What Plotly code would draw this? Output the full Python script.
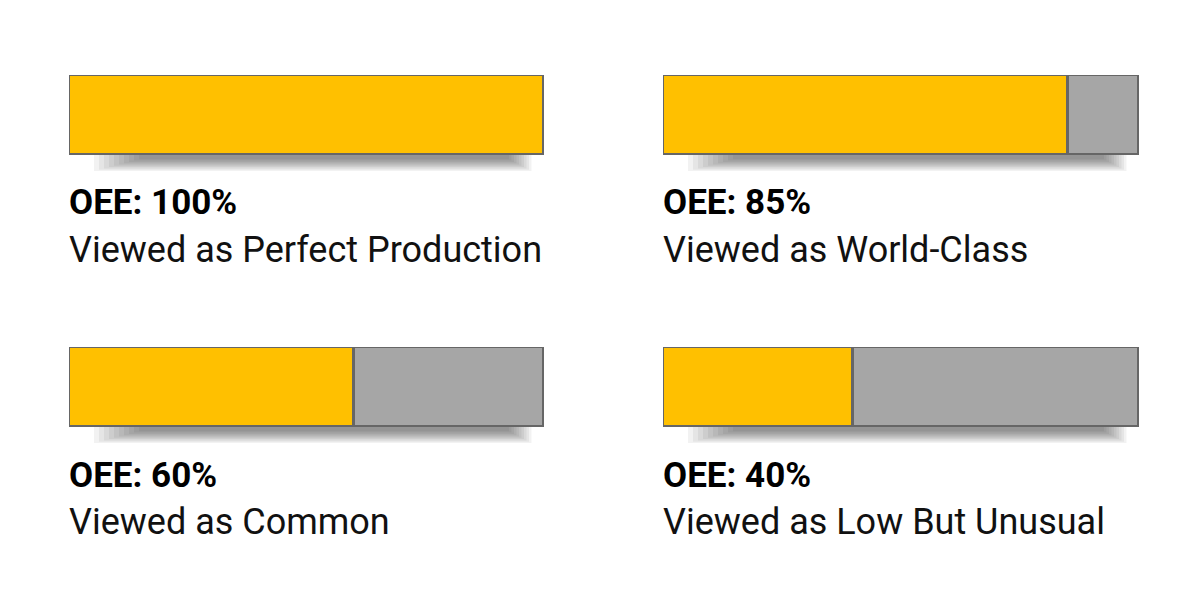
import plotly.graph_objects as go

oee_values = [100, 85, 60, 40]
labels = ["Perfect Production", "World-Class", "Common", "Low But Unusual"]

YELLOW = "#FFC000"
GRAY = "#A6A6A6"
EDGE = "#666666"

# the page puts the plot 8px in from the top-left corner, so shift back
OFF = 8
boxes = [(69, 544, 75, 155), (663, 1139, 75, 155),
         (69, 544, 347, 427), (663, 1139, 347, 427)]

W, H = 1200, 600
fig = go.Figure()
shapes = []
annotations = []

for i, (val, lab, box) in enumerate(zip(oee_values, labels, boxes)):
    l, r, t, b = [v - OFF for v in box]
    n = i + 1
    xa = "x" if n == 1 else f"x{n}"
    ya = "y" if n == 1 else f"y{n}"
    fig.add_trace(go.Bar(x=[val], y=[0], orientation="h", xaxis=xa, yaxis=ya,
                         marker=dict(color=YELLOW, line=dict(color=EDGE, width=3)),
                         width=1, hoverinfo="skip"))
    fig.add_trace(go.Bar(x=[100 - val], y=[0], orientation="h", xaxis=xa, yaxis=ya,
                         marker=dict(color=GRAY, line=dict(color=EDGE, width=3)),
                         width=1, hoverinfo="skip"))
    key = "" if n == 1 else str(n)
    fig.layout[f"xaxis{key}"] = dict(domain=[l / W, r / W], range=[0, 100], visible=False,
                                     fixedrange=True, anchor=ya)
    fig.layout[f"yaxis{key}"] = dict(domain=[1 - b / H, 1 - t / H], range=[-0.5, 0.5],
                                     visible=False, fixedrange=True, anchor=xa)

    # soft drop shadow below the bar
    for k in range(10):
        inset = 25 + k * 5
        shapes.append(dict(type="rect", xref="paper", yref="paper", layer="below",
                           x0=(l + inset) / W, x1=(r - inset * 0.5) / W,
                           y0=1 - (b + 16 - k * 1.3) / H, y1=1 - (b - 4) / H,
                           fillcolor="rgba(0,0,0,0.05)", line=dict(width=0)))

    annotations.append(dict(text=f"<b>OEE: {val}%</b>", xref="paper", yref="paper",
                            x=(l - 2) / W, y=1 - (b + 48) / H, xanchor="left", yanchor="middle",
                            showarrow=False, font=dict(size=35, color="#000000")))
    annotations.append(dict(text=f"Viewed as {lab}", xref="paper", yref="paper",
                            x=(l - 2) / W, y=1 - (b + 95) / H, xanchor="left", yanchor="middle",
                            showarrow=False, font=dict(size=36, color="#111111")))

fig.update_layout(
    width=W, height=H, margin=dict(l=0, r=0, t=0, b=0),
    barmode="stack", bargap=0, showlegend=False,
    paper_bgcolor="white", plot_bgcolor="rgba(0,0,0,0)",
    font=dict(family="Roboto"),
    shapes=shapes, annotations=annotations,
)

fig.write_html("out.html", config={"displayModeBar": False})
